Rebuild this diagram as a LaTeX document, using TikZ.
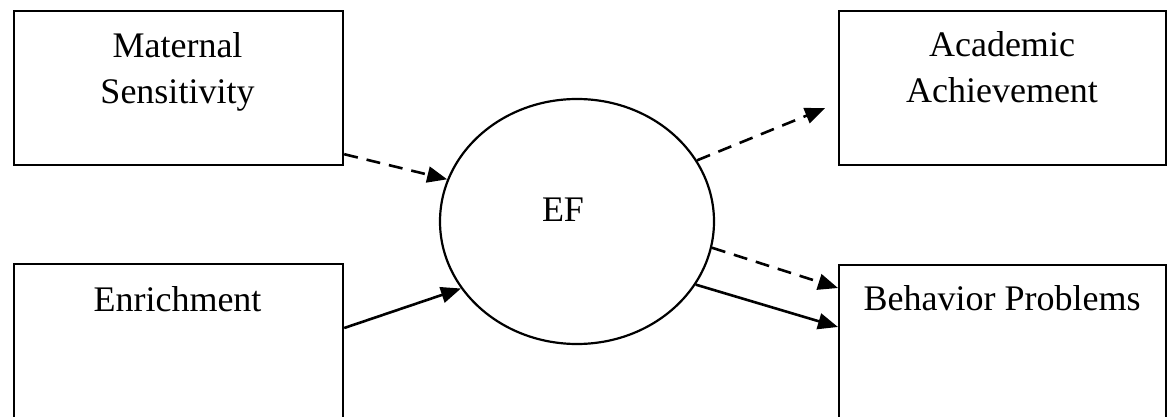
\documentclass[tikz,border=0pt]{standalone}
\usepackage{fontspec}
\setmainfont{Liberation Serif}
\usetikzlibrary{arrows.meta,shapes.geometric}
\begin{document}
\begin{tikzpicture}[x=1pt,y=-1pt,
  box/.style={draw, line width=2.2pt, minimum width=329pt, minimum height=154pt,
    inner sep=0pt, anchor=north west},
  lbl/.style={font=\fontsize{36}{46}\selectfont, inner sep=0pt, align=center},
  conn/.style={line width=2.6pt, -{Triangle[length=20pt,width=16pt]}},
  dconn/.style={conn, dash pattern=on 14pt off 9pt}]
\useasboundingbox (0,0) rectangle (1167,417);
% boxes
\node[box] (ms) at (13,10) {};
\node[box, minimum width=327pt] (ac) at (838,10) {};
\node[box, minimum height=170pt] (en) at (13,263) {};
\node[box, minimum width=327pt, minimum height=170pt] (bp) at (838,264) {};
% latent variable
\node[draw, ellipse, line width=2.2pt, minimum width=274pt, minimum height=245pt,
  inner sep=0pt] (ef) at (577,221.5) {};
% labels
\node[lbl, anchor=north] (msl) at (177.5,32.4) {Maternal\\Sensitivity};
\node[lbl, anchor=north] (acl) at (1002,31.4) {Academic\\Achievement};
\node[lbl, anchor=base] (enl) at (177.5,311) {Enrichment};
\node[lbl, anchor=base] (bpl) at (1002,310) {Behavior Problems};
\node[lbl, anchor=base] (efl) at (563,221) {EF};
% paths
\draw[dconn] ([yshift=12pt]ms.south east) -- (ef.162);
\draw[conn] ([yshift=-65pt]en.north east) -- (ef.210);
\draw[dconn] (ef.27) -- ([xshift=-13pt,yshift=-20pt]ac.west);
\draw[dconn] (ef.-11) -- ([yshift=-24pt]bp.north west);
\draw[conn] (ef.-28) -- ([yshift=-63pt]bp.north west);
\end{tikzpicture}
\end{document}
